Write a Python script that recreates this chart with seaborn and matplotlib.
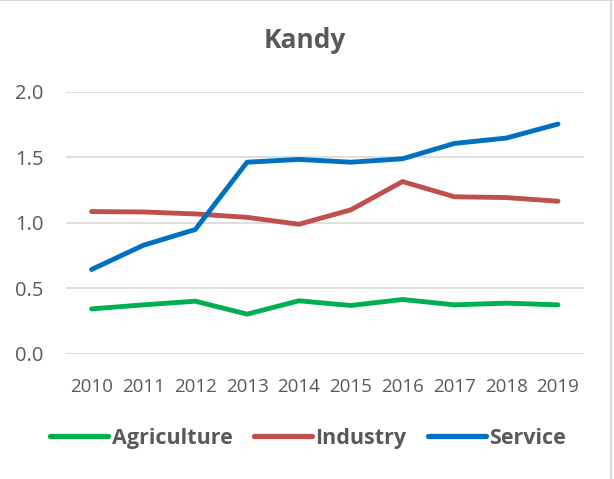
import pandas as pd
import seaborn as sns
import matplotlib.pyplot as plt

years = [2010, 2011, 2012, 2013, 2014, 2015, 2016, 2017, 2018, 2019]
agriculture = [0.344, 0.375, 0.403, 0.304, 0.406, 0.370, 0.416, 0.375, 0.388, 0.375]
industry = [1.087, 1.084, 1.069, 1.043, 0.990, 1.100, 1.316, 1.200, 1.194, 1.166]
service = [0.645, 0.830, 0.950, 1.464, 1.485, 1.464, 1.490, 1.607, 1.648, 1.755]

sectors = ['Agriculture', 'Industry', 'Service']
colors = ['#00B050', '#C0504D', '#0070C0']

df = pd.DataFrame({
    'year': years * 3,
    'value': agriculture + industry + service,
    'sector': [s for s in sectors for _ in years],
})

sns.set_style('white')
plt.rcParams['font.family'] = ['Open Sans', 'DejaVu Sans']

fig = plt.figure(figsize=(6.14, 4.79), dpi=100)
ax = fig.add_axes([0.107, 0.261, 0.844, 0.547])

sns.lineplot(data=df, x='year', y='value', hue='sector', palette=colors,
             linewidth=3.5, ax=ax, legend=False)
for line in ax.lines:
    line.set_solid_capstyle('round')

ax.set_xlim(2009.5, 2019.5)
ax.set_ylim(0, 2.0)
ax.set_xticks(years)
ax.set_yticks([0, 0.5, 1.0, 1.5, 2.0])
ax.set_yticklabels(['0.0', '0.5', '1.0', '1.5', '2.0'])
ax.grid(axis='y', color='#D9D9D9', linewidth=1.2)
ax.set_axisbelow(True)
sns.despine(ax=ax, left=True, bottom=True)
ax.tick_params(length=0, colors='#595959')
ax.tick_params(axis='x', pad=17, labelsize=13.5)
ax.tick_params(axis='y', pad=16, labelsize=14.5)
ax.set_xlabel('')
ax.set_ylabel('')

# chart border (top and right edges visible in the reference)
fig.add_artist(plt.Line2D([0, 1], [0.999, 0.999], transform=fig.transFigure,
                          color='#D9D9D9', linewidth=1.5))
fig.add_artist(plt.Line2D([0.995, 0.995], [0, 1], transform=fig.transFigure,
                          color='#D9D9D9', linewidth=1.5))

fig.text(0.497, 0.915, 'Kandy', ha='center', va='center', fontsize=19,
         fontweight='bold', color='#595959')

handles = [plt.Line2D([], [], color=c, linewidth=3.8, solid_capstyle='round') for c in colors]
leg = fig.legend(handles, sectors, loc='center', bbox_to_anchor=(0.502, 0.085), ncol=3,
                 frameon=False, handlelength=2.7, handletextpad=0.15, columnspacing=1.0,
                 prop={'size': 15.5, 'weight': 'bold'})
for t in leg.get_texts():
    t.set_color('#595959')

fig.savefig('out.png', dpi=100)
